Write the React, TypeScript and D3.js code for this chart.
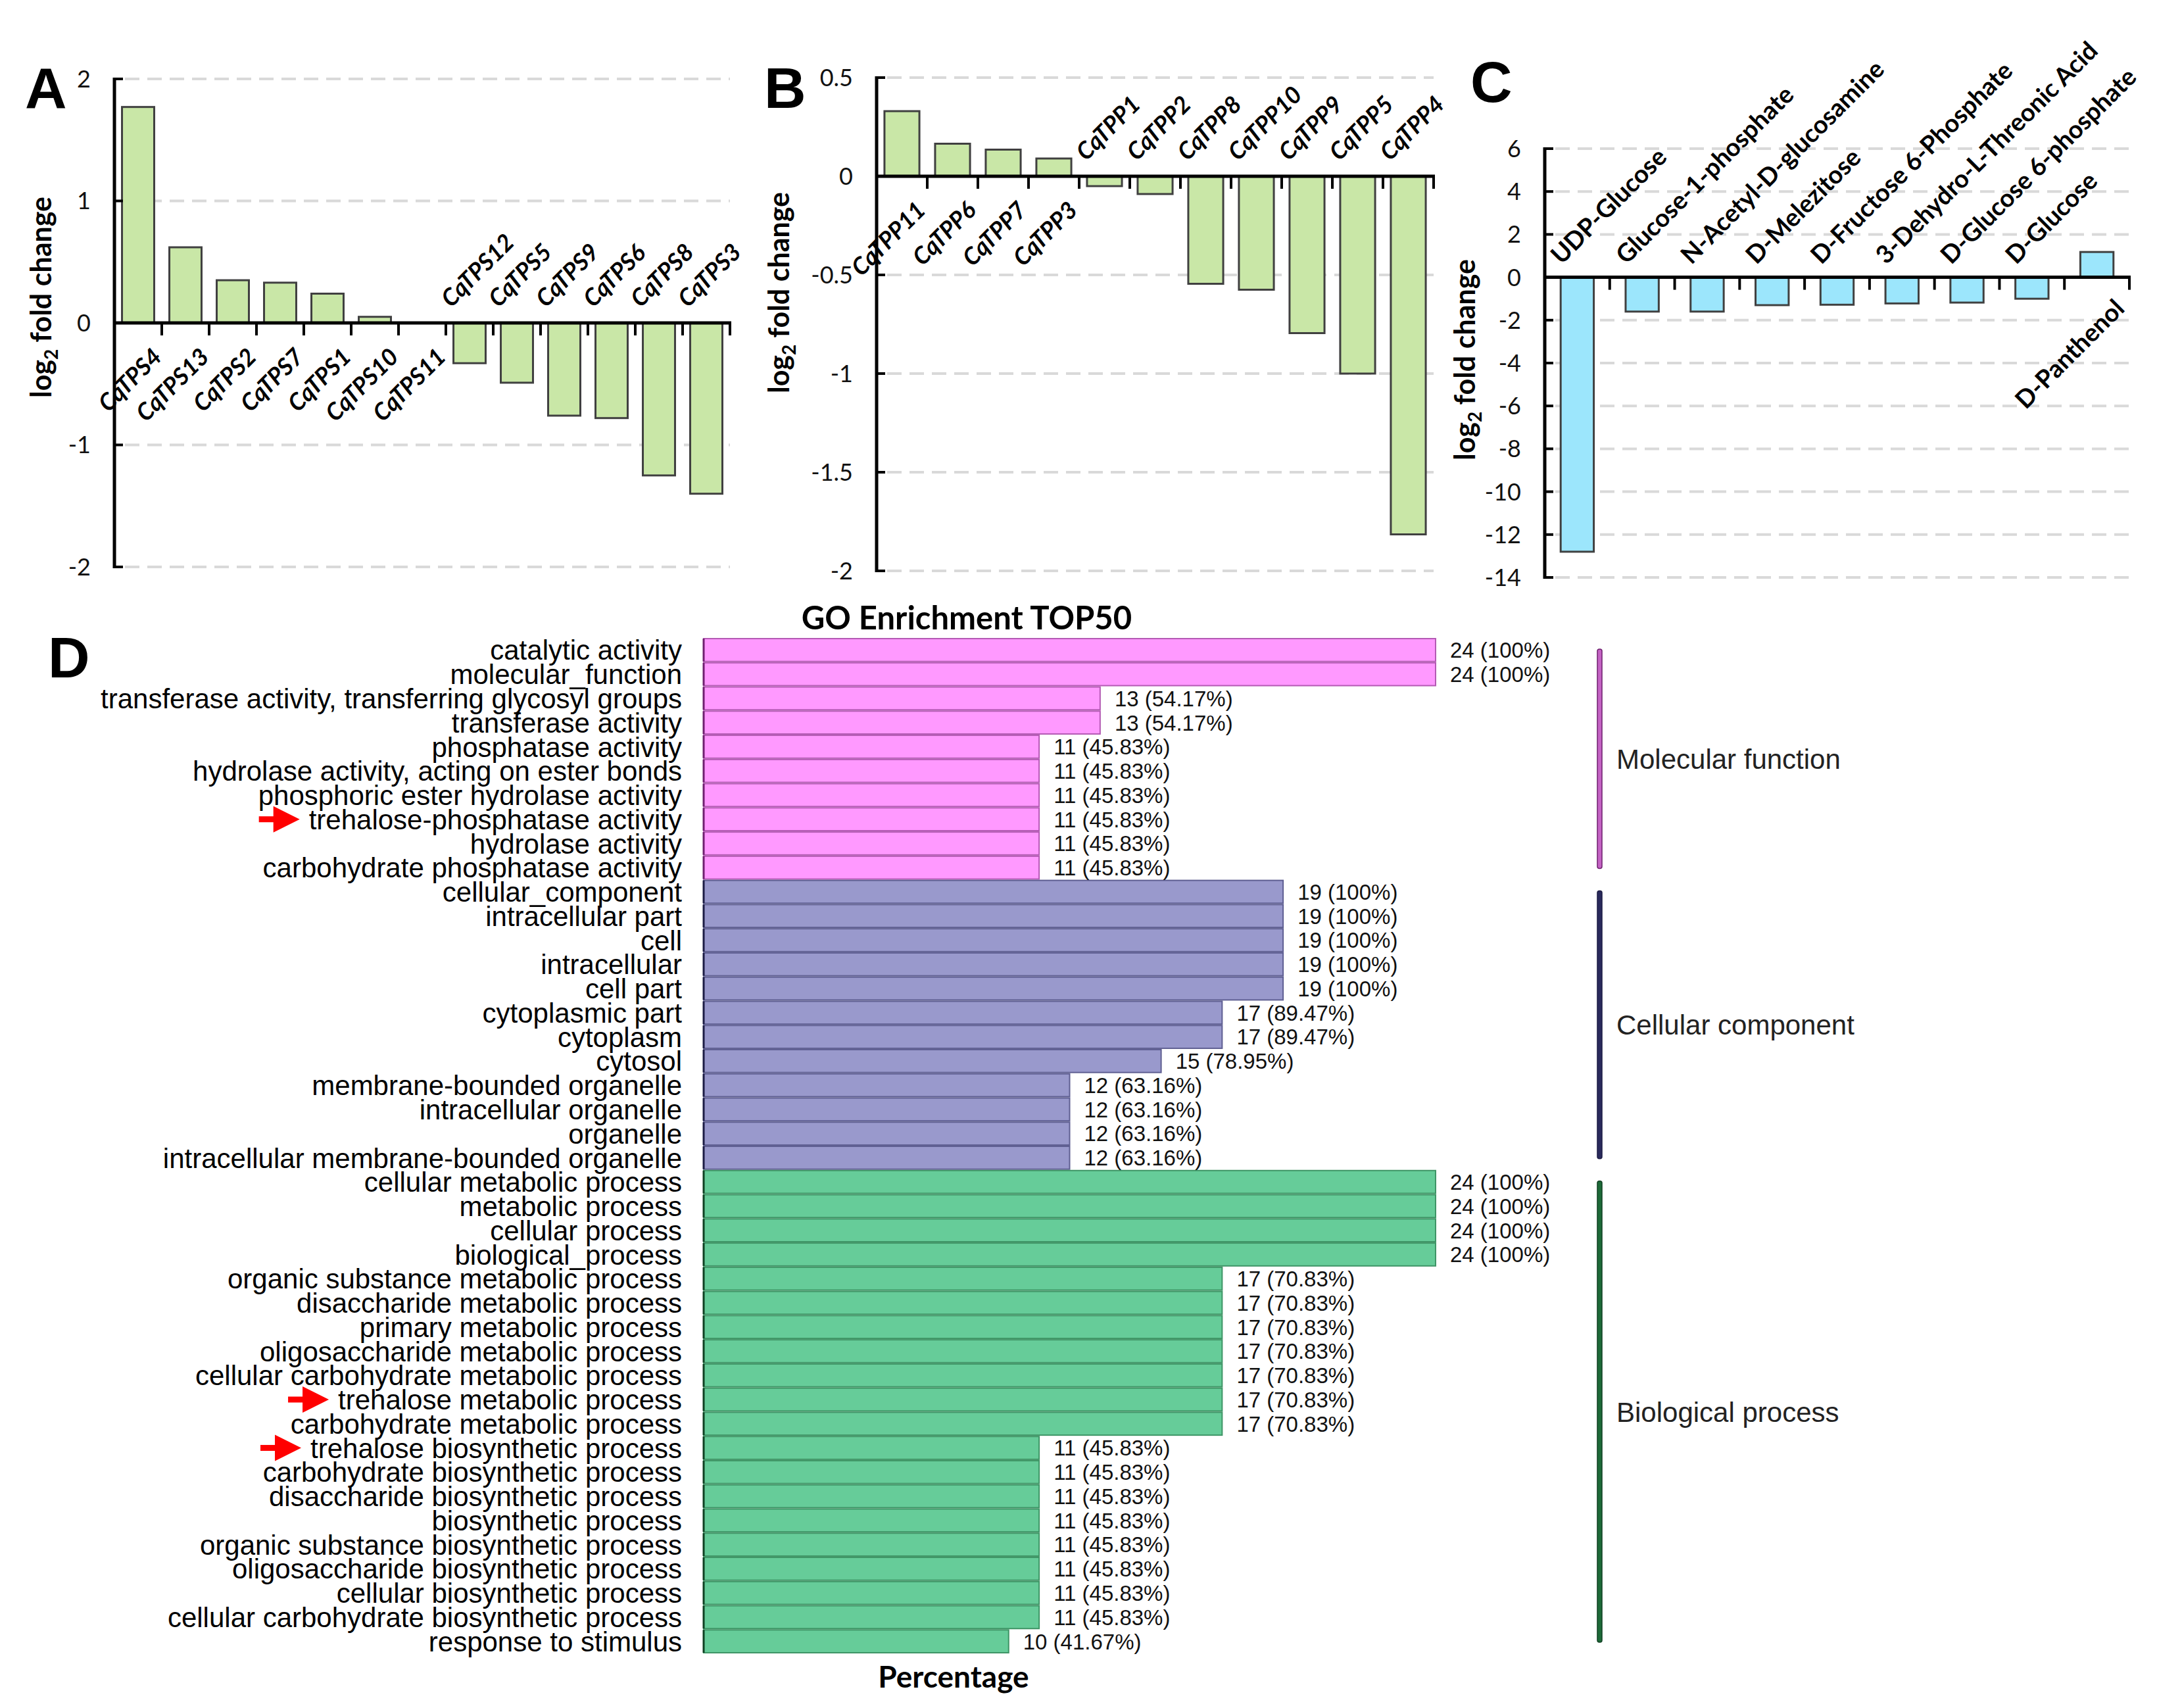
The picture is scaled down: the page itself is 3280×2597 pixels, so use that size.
import React, { useEffect, useRef } from "react";
import { scaleBand, scaleLinear, select, Selection } from "d3";

const WIDTH = 3280;
const HEIGHT = 2597;
const FONT_CHART = "Lato, 'Open Sans', sans-serif";
const FONT_GO = "'Liberation Sans', Arial, sans-serif";

// ---- panel A: TPS genes
const tpsGenes = ["CqTPS4", "CqTPS13", "CqTPS2", "CqTPS7", "CqTPS1", "CqTPS10", "CqTPS11", "CqTPS12", "CqTPS5", "CqTPS9", "CqTPS6", "CqTPS8", "CqTPS3"];
const tpsLog2FC = [1.77, 0.62, 0.35, 0.33, 0.24, 0.05, 0, -0.33, -0.49, -0.76, -0.78, -1.25, -1.4];
const tpsTicks = [2, 1, 0, -1, -2];

// ---- panel B: TPP genes
const tppGenes = ["CqTPP11", "CqTPP6", "CqTPP7", "CqTPP3", "CqTPP1", "CqTPP2", "CqTPP8", "CqTPP10", "CqTPP9", "CqTPP5", "CqTPP4"];
const tppLog2FC = [0.33, 0.165, 0.135, 0.09, -0.05, -0.09, -0.545, -0.575, -0.795, -1.0, -1.815];
const tppTicks = [0.5, 0, -0.5, -1, -1.5, -2];

// ---- panel C: metabolites
const metabolites = ["UDP-Glucose", "Glucose-1-phosphate", "N-Acetyl-D-glucosamine", "D-Melezitose", "D-Fructose 6-Phosphate", "3-Dehydro-L-Threonic Acid", "D-Glucose 6-phosphate", "D-Glucose", "D-Panthenol"];
const metaboliteLog2FC = [-12.8, -1.6, -1.6, -1.3, -1.28, -1.22, -1.18, -1.0, 1.18];
const metaboliteTicks = [6, 4, 2, 0, -2, -4, -6, -8, -10, -12, -14];

// ---- panel D: GO enrichment
const goGroups = ["Molecular function", "Cellular component", "Biological process"];
const goTerms = [
    "catalytic activity", "molecular_function", "transferase activity, transferring glycosyl groups", "transferase activity",
    "phosphatase activity", "hydrolase activity, acting on ester bonds", "phosphoric ester hydrolase activity",
    "trehalose-phosphatase activity", "hydrolase activity", "carbohydrate phosphatase activity",
    "cellular_component", "intracellular part", "cell", "intracellular", "cell part", "cytoplasmic part", "cytoplasm",
    "cytosol", "membrane-bounded organelle", "intracellular organelle", "organelle", "intracellular membrane-bounded organelle",
    "cellular metabolic process", "metabolic process", "cellular process", "biological_process",
    "organic substance metabolic process", "disaccharide metabolic process", "primary metabolic process",
    "oligosaccharide metabolic process", "cellular carbohydrate metabolic process", "trehalose metabolic process",
    "carbohydrate metabolic process", "trehalose biosynthetic process", "carbohydrate biosynthetic process",
    "disaccharide biosynthetic process", "biosynthetic process", "organic substance biosynthetic process",
    "oligosaccharide biosynthetic process", "cellular biosynthetic process", "cellular carbohydrate biosynthetic process",
    "response to stimulus",
];
const goTermGroup = [
    0, 0, 0, 0, 0, 0, 0, 0, 0, 0,
    1, 1, 1, 1, 1, 1, 1, 1, 1, 1, 1, 1,
    2, 2, 2, 2, 2, 2, 2, 2, 2, 2, 2, 2, 2, 2, 2, 2, 2, 2, 2, 2,
];
const goCounts = [
    24, 24, 13, 13, 11, 11, 11, 11, 11, 11,
    19, 19, 19, 19, 19, 17, 17, 15, 12, 12, 12, 12,
    24, 24, 24, 24, 17, 17, 17, 17, 17, 17, 17, 11, 11, 11, 11, 11, 11, 11, 11, 10,
];
const goPercents = [
    "100", "100", "54.17", "54.17", "45.83", "45.83", "45.83", "45.83", "45.83", "45.83",
    "100", "100", "100", "100", "100", "89.47", "89.47", "78.95", "63.16", "63.16", "63.16", "63.16",
    "100", "100", "100", "100", "70.83", "70.83", "70.83", "70.83", "70.83", "70.83", "70.83",
    "45.83", "45.83", "45.83", "45.83", "45.83", "45.83", "45.83", "45.83", "41.67",
];
const goMarked = ["trehalose-phosphatase activity", "trehalose metabolic process", "trehalose biosynthetic process"];

const GROUP_FILL = ["#ff99ff", "#9999cc", "#66cc99"];
const GROUP_STROKE = ["#b45ab4", "#5f5f92", "#3f9566"];
const GROUP_EDGE = ["#6e1f6e", "#1c1c44", "#0f4022"];
const GROUP_BAR = ["#c463c4", "#2a2a5c", "#1d6a38"];

type G = Selection<SVGGElement, unknown, null, undefined>;

type PanelSpec = {
    letter: string;
    letterX: number;
    letterY: number;
    x0: number;
    x1: number;
    yTop: number;
    yBottom: number;
    ticks: number[];
    categories: string[];
    values: number[];
    fill: string;
    padding: number;
    italic: boolean;
    labelSize: number;
    posOffset: [number, number];
    negOffset: [number, number];
    titleX: number;
    titleY: number;
};

const drawBarPanel = (svg: G, p: PanelSpec): void => {
    const y = scaleLinear()
        .domain([p.ticks[p.ticks.length - 1], p.ticks[0]])
        .range([p.yBottom, p.yTop]);
    const x = scaleBand<string>()
        .domain(p.categories)
        .range([p.x0, p.x1])
        .paddingInner(p.padding)
        .paddingOuter(p.padding / 2);
    const y0 = y(0);
    const step = x.step();
    const g = svg.append("g");

    g.selectAll(".grid")
        .data(p.ticks.filter(t => t !== 0))
        .enter()
        .append("line")
        .attr("x1", p.x0 + 16)
        .attr("x2", p.x1)
        .attr("y1", d => y(d))
        .attr("y2", d => y(d))
        .attr("stroke", "#d9d9d9")
        .attr("stroke-width", 4)
        .attr("stroke-dasharray", "22 12");

    g.selectAll(".bar")
        .data(p.values)
        .enter()
        .append("rect")
        .attr("x", (_, i) => x(p.categories[i]) as number)
        .attr("y", d => Math.min(y(d), y0))
        .attr("width", x.bandwidth())
        .attr("height", d => Math.abs(y(d) - y0))
        .attr("fill", p.fill)
        .attr("stroke", "#404040")
        .attr("stroke-width", 3);

    // x axis with ticks between categories
    g.append("line")
        .attr("x1", p.x0)
        .attr("x2", p.x1 + 2)
        .attr("y1", y0)
        .attr("y2", y0)
        .attr("stroke", "#000")
        .attr("stroke-width", 5);
    g.selectAll(".xtick")
        .data(p.categories)
        .enter()
        .append("line")
        .attr("x1", (_, i) => p.x0 + step * (i + 1))
        .attr("x2", (_, i) => p.x0 + step * (i + 1))
        .attr("y1", y0)
        .attr("y2", y0 + 19)
        .attr("stroke", "#000")
        .attr("stroke-width", 4);

    // y axis
    g.append("line")
        .attr("x1", p.x0)
        .attr("x2", p.x0)
        .attr("y1", p.yTop - 2)
        .attr("y2", p.yBottom + 2)
        .attr("stroke", "#000")
        .attr("stroke-width", 5);
    g.selectAll(".ytick")
        .data(p.ticks)
        .enter()
        .append("line")
        .attr("x1", p.x0)
        .attr("x2", p.x0 + 13)
        .attr("y1", d => y(d))
        .attr("y2", d => y(d))
        .attr("stroke", "#000")
        .attr("stroke-width", 4);
    g.selectAll(".ylabel")
        .data(p.ticks)
        .enter()
        .append("text")
        .attr("x", p.x0 - 36)
        .attr("y", d => y(d))
        .attr("dy", "0.36em")
        .attr("text-anchor", "end")
        .attr("font-family", FONT_CHART)
        .attr("font-size", 36)
        .attr("fill", "#111")
        .text(d => String(d));

    // rotated category labels: above the axis for negative bars, below for the rest
    g.selectAll(".cat")
        .data(p.categories)
        .enter()
        .append("text")
        .attr("transform", (d, i) => {
            const cx = (x(d) as number) + x.bandwidth() / 2;
            const [dx, dy] = p.values[i] >= 0 ? p.posOffset : p.negOffset;
            return `translate(${cx + dx},${y0 + dy}) rotate(-45)`;
        })
        .attr("text-anchor", (_, i) => (p.values[i] >= 0 ? "end" : "start"))
        .attr("font-family", FONT_CHART)
        .attr("font-weight", 700)
        .attr("font-style", p.italic ? "italic" : "normal")
        .attr("font-size", p.labelSize)
        .attr("fill", "#000")
        .text(d => d);

    const title = g
        .append("text")
        .attr("transform", `translate(${p.titleX},${p.titleY}) rotate(-90)`)
        .attr("dy", "0.36em")
        .attr("text-anchor", "middle")
        .attr("font-family", FONT_CHART)
        .attr("font-weight", 700)
        .attr("font-size", 43)
        .attr("fill", "#000");
    title.append("tspan").text("log");
    title.append("tspan").attr("font-size", 28).attr("dy", 10).text("2");
    title.append("tspan").attr("dy", -10).text(" fold change");

    g.append("text")
        .attr("x", p.letterX)
        .attr("y", p.letterY)
        .attr("font-family", FONT_GO)
        .attr("font-weight", 700)
        .attr("font-size", 88)
        .attr("fill", "#000")
        .text(p.letter);
};

const drawGoPanel = (svg: G): void => {
    const labelRight = 1037;
    const y = scaleBand<string>().domain(goTerms).range([970, 2514]).paddingInner(0.055).paddingOuter(0.027);
    const x = scaleLinear().domain([0, 24]).range([1070, 2183]);
    const g = svg.append("g");

    g.append("text")
        .attr("x", 1470)
        .attr("y", 957)
        .attr("text-anchor", "middle")
        .attr("font-family", FONT_CHART)
        .attr("font-weight", 700)
        .attr("font-size", 49)
        .text("GO Enrichment TOP50");

    g.selectAll(".gobar")
        .data(goCounts)
        .enter()
        .append("rect")
        .attr("x", x(0))
        .attr("y", (_, i) => y(goTerms[i]) as number)
        .attr("width", d => x(d) - x(0))
        .attr("height", y.bandwidth())
        .attr("fill", (_, i) => GROUP_FILL[goTermGroup[i]])
        .attr("stroke", (_, i) => GROUP_STROKE[goTermGroup[i]])
        .attr("stroke-width", 2);
    g.selectAll(".goedge")
        .data(goTerms)
        .enter()
        .append("line")
        .attr("x1", x(0))
        .attr("x2", x(0))
        .attr("y1", d => y(d) as number)
        .attr("y2", d => (y(d) as number) + y.bandwidth())
        .attr("stroke", (_, i) => GROUP_EDGE[goTermGroup[i]])
        .attr("stroke-width", 3);

    g.selectAll(".govalue")
        .data(goCounts)
        .enter()
        .append("text")
        .attr("x", d => x(d) + 22)
        .attr("y", (_, i) => (y(goTerms[i]) as number) + y.bandwidth() / 2)
        .attr("dy", "0.36em")
        .attr("font-family", FONT_GO)
        .attr("font-size", 33)
        .attr("fill", "#111")
        .text((d, i) => `${d} (${goPercents[i]}%)`);

    const labels = g
        .selectAll<SVGTextElement, string>(".goterm")
        .data(goTerms)
        .enter()
        .append("text")
        .attr("x", labelRight)
        .attr("y", d => (y(d) as number) + y.bandwidth() / 2)
        .attr("dy", "0.36em")
        .attr("text-anchor", "end")
        .attr("font-family", FONT_GO)
        .attr("font-size", 42)
        .attr("fill", "#000")
        .text(d => d);

    // red arrows in front of the trehalose terms
    labels.each((d, i, nodes) => {
        if (!goMarked.includes(d)) return;
        const tip = labelRight - nodes[i].getComputedTextLength() - 14;
        const cy = (y(d) as number) + y.bandwidth() / 2;
        g.append("rect")
            .attr("x", tip - 62)
            .attr("y", cy - 4.5)
            .attr("width", 26)
            .attr("height", 9)
            .attr("fill", "#ff0000");
        g.append("path")
            .attr("d", `M${tip - 40},${cy - 20} L${tip},${cy} L${tip - 40},${cy + 20} Z`)
            .attr("fill", "#ff0000");
    });

    goGroups.forEach((name, gi) => {
        const rows = goTerms.filter((_, i) => goTermGroup[i] === gi);
        const top = (y(rows[0]) as number) + 16;
        const bottom = (y(rows[rows.length - 1]) as number) + y.bandwidth() - 16;
        g.append("rect")
            .attr("x", 2429)
            .attr("y", top)
            .attr("width", 7)
            .attr("height", bottom - top)
            .attr("rx", 3)
            .attr("fill", GROUP_BAR[gi])
            .attr("stroke", GROUP_EDGE[gi])
            .attr("stroke-width", 1.5);
        g.append("text")
            .attr("x", 2458)
            .attr("y", (top + bottom) / 2)
            .attr("dy", "0.36em")
            .attr("font-family", FONT_GO)
            .attr("font-size", 42)
            .attr("fill", "#222")
            .text(name);
    });

    g.append("text")
        .attr("x", 1450)
        .attr("y", 2566)
        .attr("text-anchor", "middle")
        .attr("font-family", FONT_CHART)
        .attr("font-weight", 700)
        .attr("font-size", 46)
        .text("Percentage");

    g.append("text")
        .attr("x", 73)
        .attr("y", 1030)
        .attr("font-family", FONT_GO)
        .attr("font-weight", 700)
        .attr("font-size", 88)
        .text("D");
};

export default function App() {
    const svgRef = useRef<SVGSVGElement>(null);

    useEffect(() => {
        const root = select(svgRef.current);
        root.selectAll("*").remove();
        const svg = root.append("g") as unknown as G;

        drawBarPanel(svg, {
            letter: "A", letterX: 38, letterY: 164,
            x0: 174, x1: 1110, yTop: 120, yBottom: 862,
            ticks: tpsTicks, categories: tpsGenes, values: tpsLog2FC,
            fill: "#c9e7a7", padding: 0.32, italic: true, labelSize: 36,
            posOffset: [38, 54], negOffset: [-28, -22],
            titleX: 63, titleY: 452,
        });
        drawBarPanel(svg, {
            letter: "B", letterX: 1162, letterY: 164,
            x0: 1333, x1: 2180, yTop: 118, yBottom: 868,
            ticks: tppTicks, categories: tppGenes, values: tppLog2FC,
            fill: "#c9e7a7", padding: 0.31, italic: true, labelSize: 36,
            posOffset: [38, 54], negOffset: [-28, -22],
            titleX: 1185, titleY: 445,
        });
        drawBarPanel(svg, {
            letter: "C", letterX: 2236, letterY: 155,
            x0: 2349, x1: 3238, yTop: 226, yBottom: 878,
            ticks: metaboliteTicks, categories: metabolites, values: metaboliteLog2FC,
            fill: "#9ce6fc", padding: 0.49, italic: false, labelSize: 38,
            posOffset: [44, 50], negOffset: [-24, -18],
            titleX: 2228, titleY: 547,
        });
        drawGoPanel(svg);
    }, []);

    return (
        <svg
            ref={svgRef}
            width={WIDTH}
            height={HEIGHT}
            style={{ position: "absolute", left: 0, top: 0, background: "#fff" }}
        />
    );
}
